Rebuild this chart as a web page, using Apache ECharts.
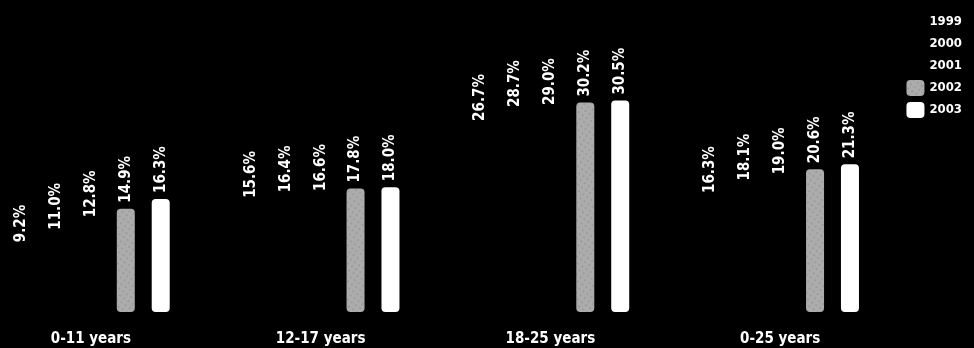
<!DOCTYPE html>
<html><head><meta charset="utf-8">
<script src="https://cdn.jsdelivr.net/npm/echarts@6/dist/echarts.min.js"></script>
<style>html,body{margin:0;padding:0;background:#000;}#c{width:974px;height:348px;}</style>
</head><body><div id="c"></div>
<script>
const categories = ['0-11 years', '12-17 years', '18-25 years', '0-25 years'];
const years = ['1999', '2000', '2001', '2002', '2003'];
const v1999 = [9.2, 15.6, 26.7, 16.3];
const v2000 = [11.0, 16.4, 28.7, 18.1];
const v2001 = [12.8, 16.6, 29.0, 19.0];
const v2002 = [14.9, 17.8, 30.2, 20.6];
const v2003 = [16.3, 18.0, 30.5, 21.3];
const seriesValues = [v1999, v2000, v2001, v2002, v2003];
const colors = ['#000000', '#000000', '#000000', '#acacac', '#ffffff'];

const FONT = '"DejaVu Sans Condensed", "Liberation Sans Narrow", "DejaVu Sans", sans-serif';
const chart = echarts.init(document.getElementById('c'), null, {renderer: 'canvas'});
chart.setOption({
  backgroundColor: '#000',
  animation: false,
  legend: {
    orient: 'vertical', right: 7, top: 9,
    itemWidth: 18, itemHeight: 16, itemGap: 6,
    data: years,
    textStyle: {color: '#fff', fontWeight: 'bold', fontSize: 13, fontFamily: FONT}
  },
  grid: {left: -24, right: 79, top: 0, bottom: 36, containLabel: false, outerBoundsMode: 'none'},
  xAxis: {
    type: 'category', data: categories,
    axisLine: {show: false}, axisTick: {show: false}, splitLine: {show: false},
    axisLabel: {color: '#fff', fontWeight: 'bold', fontSize: 15, fontFamily: FONT, margin: 20}
  },
  yAxis: {type: 'value', min: 0, max: 45, show: false, splitLine: {show: false}},
  series: years.map((y, i) => {
    const itemStyle = {color: colors[i], borderRadius: 4};
    if (i === 3) {
      itemStyle.decal = {symbol: 'rect', symbolSize: 0.5, color: 'rgba(40,40,40,0.45)', dashArrayX: [[2, 3]], dashArrayY: [2, 3], rotation: 0.6};
    }
    return {
      name: y, type: 'bar', data: seriesValues[i],
      barWidth: 18, barGap: '94%',
      itemStyle: itemStyle,
      label: {
        show: true, position: 'top', rotate: 90, align: 'left', verticalAlign: 'middle',
        distance: 6, color: '#fff', fontWeight: 'bold', fontSize: 15, fontFamily: FONT,
        formatter: p => p.value.toFixed(1) + '%'
      }
    };
  })
});
</script></body></html>
